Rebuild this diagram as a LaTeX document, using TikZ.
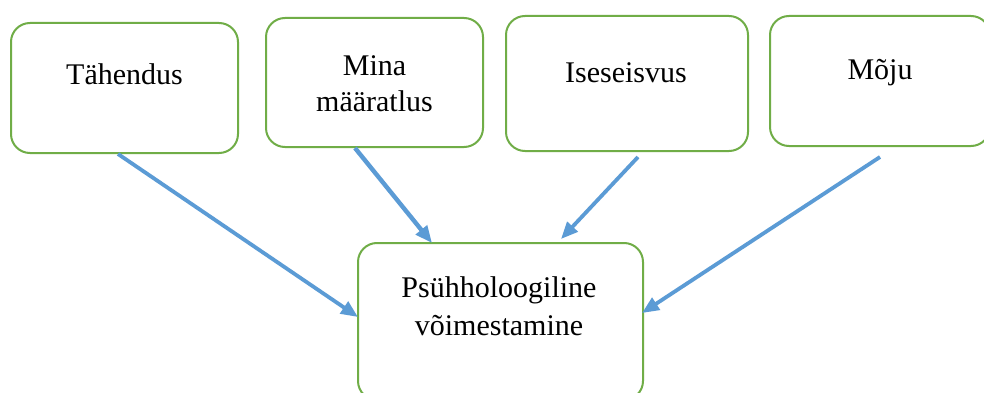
\documentclass[tikz,border=0pt]{standalone}
\usepackage{fontspec}
\setmainfont{Liberation Serif}
\usetikzlibrary{arrows.meta}
\definecolor{boxgreen}{RGB}{112,173,71}
\definecolor{arrowblue}{RGB}{91,155,213}
\begin{document}
\begin{tikzpicture}[x=1pt,y=-1pt,
  box/.style={draw=boxgreen,line width=2pt,rounded corners=19pt,fill=white,inner sep=0pt},
  lbl/.style={anchor=base,inner sep=0pt,font=\fontsize{30}{36}\selectfont},
  conn/.style={draw=arrowblue,line width=3.8pt,-{Triangle[length=17pt,width=14pt]}}]
\useasboundingbox (0,0) rectangle (984,393);
\fill[white] (0,0) rectangle (984,393);
% boxes
\node[box,minimum width=227pt,minimum height=130pt] (b1) at (124.5,88) {};
\node[box,minimum width=217pt,minimum height=129pt] (b2) at (374.5,82.5) {};
\node[box,minimum width=242pt,minimum height=135pt] (b3) at (627,83.5) {};
\node[box,minimum width=220pt,minimum height=130pt] (b4) at (880,81) {};
\node[box,minimum width=285pt,minimum height=157pt] (b5) at (500.5,321.5) {};
% texts
\node[lbl] (t1) at (124.5,85) {Tähendus};
\node[lbl] (t2a) at (374.5,76) {Mina};
\node[lbl] (t2b) at (374.5,111) {määratlus};
\node[lbl] (t3) at (626,83) {Iseseisvus};
\node[lbl] (t4) at (880,80) {Mõju};
\node[lbl] (t5a) at (499,297) {Psühholoogiline};
\node[lbl] (t5b) at (499,335) {võimestamine};
% connector ends
\coordinate (s1) at (118,154);
\coordinate (e1) at (358,317);
\coordinate (s2) at (355,148);
\coordinate (e2) at (432,243);
\coordinate (s3) at (638,157);
\coordinate (e3) at (561,239);
\coordinate (s4) at (880,157);
\coordinate (e4) at (642,313);
\draw[conn] (s1) -- (e1);
\draw[conn,line width=4.4pt] (s2) -- (e2);
\draw[conn] (s3) -- (e3);
\draw[conn] (s4) -- (e4);
\end{tikzpicture}
\end{document}
